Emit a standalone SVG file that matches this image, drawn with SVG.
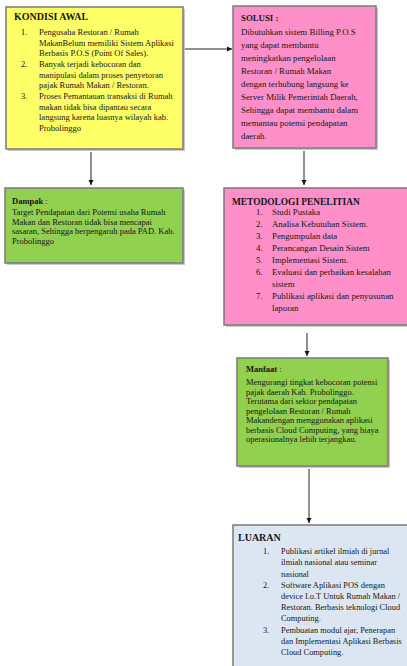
<svg xmlns="http://www.w3.org/2000/svg" width="407" height="666" viewBox="0 0 407 666">
<style>
.box{stroke:#7a7a7a;stroke-width:1.5}
.sh{fill:#c8c8c8}
text{font-family:"Liberation Serif","Times New Roman",serif;font-size:8.8px;fill:#161616}
.b{font-weight:bold}
.t{font-weight:bold;font-size:10px}
.s{font-size:8.5px}
.l{font-size:8.4px}
.c{stroke:#222;stroke-width:1;fill:none}
</style>
<defs>
<marker id="ah" markerWidth="6" markerHeight="6" refX="5" refY="3" orient="auto" markerUnits="userSpaceOnUse">
<path d="M0,0.5 L5,3 L0,5.5 Z" fill="#111"/>
</marker>
</defs>
<rect width="407" height="666" fill="#ffffff"/>

<g id="connectors">
<line class="c" x1="183" y1="49" x2="232" y2="49" marker-end="url(#ah)"/>
<line class="c" x1="91" y1="152" x2="91" y2="185" marker-end="url(#ah)"/>
<line class="c" x1="304" y1="151" x2="304" y2="185" marker-end="url(#ah)"/>
<line class="c" x1="307" y1="333" x2="307" y2="356" marker-end="url(#ah)"/>
<line class="c" x1="309" y1="469" x2="309" y2="523" marker-end="url(#ah)"/>
</g>

<g id="kondisi">
<rect class="sh" x="8" y="9" width="177" height="142"/>
<rect class="box" x="6" y="7" width="177" height="142" fill="#ffff66"/>
<text class="t" x="14" y="20">KONDISI AWAL</text>
<g class="s">
<text class="s" x="21" y="35">1.</text>
<text class="s" x="39" y="35">Pengusaha Restoran / Rumah</text>
<text class="s" x="39" y="45.5">MakanBelum memiliki Sistem Aplikasi</text>
<text class="s" x="39" y="56">Berbasis P.O.S (Point Of Sales).</text>
<text class="s" x="21" y="67">2.</text>
<text class="s" x="39" y="67">Banyak terjadi kebocoran dan</text>
<text class="s" x="39" y="77.5">manipulasi dalam proses penyetoran</text>
<text class="s" x="39" y="88">pajak Rumah Makan / Restoran.</text>
<text class="s" x="21" y="99">3.</text>
<text class="s" x="39" y="99">Proses Pemantauan transaksi di Rumah</text>
<text class="s" x="39" y="109.5">makan tidak bisa dipantau secara</text>
<text class="s" x="39" y="120">langsung karena luasnya wilayah kab.</text>
<text class="s" x="39" y="130.5">Probolinggo</text>
</g>
</g>

<g id="solusi">
<rect class="sh" x="235" y="8" width="143" height="142"/>
<rect class="box" x="233" y="6" width="143" height="142" fill="#ff8fc8"/>
<text class="b" x="241" y="21">SOLUSI :</text>
<text x="241" y="34.5">Dibutuhkan sistem Billing P.O.S</text>
<text x="241" y="47.5">yang dapat membantu</text>
<text x="241" y="60.5">meningkatkan pengelolaan</text>
<text x="241" y="73.5">Restoran / Rumah Makan</text>
<text x="241" y="86.5">dengan terhubung langsung ke</text>
<text x="241" y="99.5">Server Milik Pemerintah Daerah,</text>
<text x="241" y="112.5">Sehingga dapat membantu dalam</text>
<text x="241" y="125.5">memantau potensi pendapatan</text>
<text x="241" y="138.5">daerah.</text>
</g>

<g id="dampak">
<rect class="sh" x="7" y="190" width="178" height="75"/>
<rect class="box" x="5" y="188" width="178" height="75" fill="#92d050"/>
<text class="s" x="12" y="204"><tspan class="b">Dampak</tspan> :</text>
<text class="s" x="12" y="215">Target Pendapatan dari Potensi usaha Rumah</text>
<text class="s" x="12" y="224.5">Makan dan Restoran tidak bisa mencapai</text>
<text class="s" x="12" y="234">sasaran, Sehingga berpengaruh pada PAD. Kab.</text>
<text class="s" x="12" y="243.5">Probolinggo</text>
</g>

<g id="metodologi">
<rect class="sh" x="226" y="190" width="190" height="137"/>
<rect class="box" x="224" y="188" width="190" height="137" fill="#ff8fc8"/>
<text class="t" x="232" y="205" style="font-size:9.4px">METODOLOGI PENELITIAN</text>
<text x="256" y="215">1.</text><text x="272" y="215">Studi Pustaka</text>
<text x="256" y="227">2.</text><text x="272" y="227">Analisa Kebutuhan Sistem.</text>
<text x="256" y="239">3.</text><text x="272" y="239">Pengumpulan data</text>
<text x="256" y="251">4.</text><text x="272" y="251">Perancangan Desain Sistem</text>
<text x="256" y="263">5.</text><text x="272" y="263">Implementasi Sistem.</text>
<text x="256" y="275">6.</text><text x="272" y="275">Evaluasi dan perbaikan kesalahan</text>
<text x="272" y="287">sistem</text>
<text x="256" y="299">7.</text><text x="272" y="299">Publikasi aplikasi dan penyusunan</text>
<text x="272" y="311">laporan</text>
</g>

<g id="manfaat">
<rect class="sh" x="239" y="360" width="151" height="108"/>
<rect class="box" x="237" y="358" width="151" height="108" fill="#92d050"/>
<text class="s" x="246" y="372"><tspan class="b">Manfaat</tspan> :</text>
<text class="s" x="246" y="385">Mengurangi tingkat kebocoran potensi</text>
<text class="s" x="246" y="394.5">pajak daerah Kab. Probolinggo.</text>
<text class="s" x="246" y="404">Terutama dari sektor pendapatan</text>
<text class="s" x="246" y="413.5">pengelolaan Restoran / Rumah</text>
<text class="s" x="246" y="423">Makandengan menggunakan aplikasi</text>
<text class="s" x="246" y="432.5">berbasis Cloud Computing, yang biaya</text>
<text class="s" x="246" y="442">operasionalnya lebih terjangkau.</text>
</g>

<g id="luaran">
<rect class="sh" x="235" y="527" width="180" height="150"/>
<rect class="box" x="233" y="525" width="180" height="150" fill="#dce6f2"/>
<text class="t" x="238" y="541">LUARAN</text>
<text class="l" x="263" y="554">1.</text><text class="l" x="281" y="554">Publikasi artikel ilmiah di jurnal</text>
<text class="l" x="281" y="565">ilmiah nasional atau seminar</text>
<text class="l" x="281" y="576.5">nasional</text>
<text class="l" x="263" y="587.5">2.</text><text class="l" x="281" y="587.5">Software Aplikasi POS dengan</text>
<text class="l" x="281" y="599">device I.o.T Untuk Rumah Makan /</text>
<text class="l" x="281" y="610">Restoran. Berbasis teknologi Cloud</text>
<text class="l" x="281" y="621">Computing.</text>
<text class="l" x="263" y="632.5">3.</text><text class="l" x="281" y="632.5">Pembuatan modul ajar, Penerapan</text>
<text class="l" x="281" y="643.5">dan Implementasi Aplikasi Berbasis</text>
<text class="l" x="281" y="655">Cloud Computing.</text>
</g>
</svg>
